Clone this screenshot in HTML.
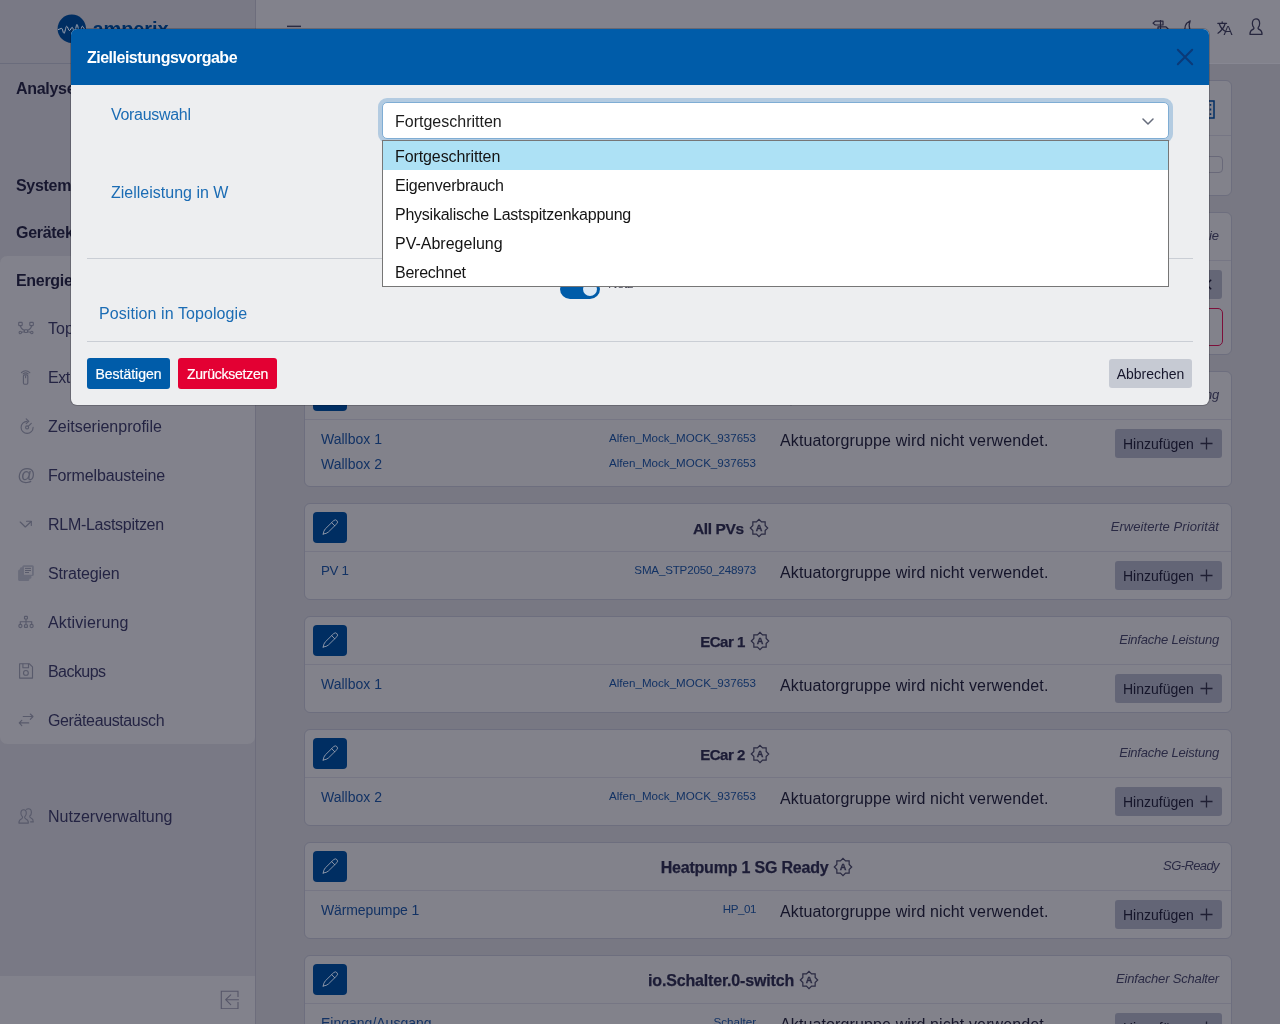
<!DOCTYPE html>
<html lang="de">
<head>
<meta charset="utf-8">
<title>amperix – Zielleistungsvorgabe</title>
<style>
*{box-sizing:border-box;margin:0;padding:0}
html,body{width:1280px;height:1024px;overflow:hidden}
body{position:relative;background:#787883;font-family:"Liberation Sans",sans-serif;font-size:16px;color:#1e1e3a}
.abs{position:absolute}
/* ---------- sidebar ---------- */
#side{position:absolute;left:0;top:0;width:256px;height:1024px;background:#797985;border-right:1px solid #6d6d7c}
#side .hd{position:absolute;left:0;top:0;width:255px;height:64px;border-bottom:1px solid #6a6c7c}
#side .grp{position:absolute;margin-top:1px;letter-spacing:-.3px;left:16px;font-weight:bold;font-size:16px;color:#17172f;white-space:nowrap;line-height:20px}
#side .open{position:absolute;left:0;top:256px;width:255px;height:488px;background:#82828c;border-radius:7px}
#side .it{position:absolute;margin-top:1px;left:48px;font-size:16px;color:#242443;white-space:nowrap;line-height:20px}
#side .ic{position:absolute;left:17px;width:18px;height:18px;color:#585a6b}
.gear{vertical-align:-4px;margin-left:5px;color:#2a2a42}
#side .ft{position:absolute;left:0;top:976px;width:255px;height:48px;background:#82828c}
/* ---------- top bar ---------- */
#top{position:absolute;left:256px;top:0;width:1024px;height:64px;background:#82828c;border-bottom:1px solid #878792}
/* ---------- cards ---------- */
.card{position:absolute;left:304px;width:928px;background:#82828b;border:1px solid #6d6e7e;border-radius:6px}
.card .hr{position:absolute;left:0;right:0;height:1px;background:#767684}
.card .hdr{position:absolute;left:0;top:0;right:0;height:47px;display:flex;justify-content:space-between;align-items:center;padding:0 12px 0 8px}
.card .edit{position:relative;flex:none;width:34px;height:31px;background:#002e62;border-radius:4px}
.card .ttl{font-weight:bold;font-size:16px;line-height:20px;color:#1c1c36;white-space:nowrap;letter-spacing:-0.4px;position:relative;top:1px;left:2px;-webkit-text-stroke:.25px #1c1c36}
.card .typ{font-style:italic;font-size:13px;line-height:18px;color:#2a2a44;white-space:nowrap;position:relative;top:-1px}
.card .nm{position:absolute;left:16px;font-size:14px;line-height:18px;color:#123264;white-space:nowrap}
.card .dv{position:absolute;right:475px;margin-top:1px;font-size:11.6px;line-height:16px;color:#123264;white-space:nowrap}
.card .msg{position:absolute;left:475px;margin-top:1px;letter-spacing:.12px;font-size:16px;line-height:20px;color:#15152a;white-space:nowrap}
.card .add{position:absolute;right:9px;margin-top:1px;width:107px;height:29px;background:#636576;border-radius:3px;font-size:14px;line-height:31px;color:#15152a;padding-left:8px;white-space:nowrap}
/* ---------- modal ---------- */
#modal{position:absolute;left:71px;top:29px;width:1138px;height:376px;background:#edeef0;border-radius:6px;overflow:hidden;box-shadow:0 0 0 1px rgba(0,0,10,.2)}
#modal .mh{position:absolute;left:0;top:0;width:100%;height:56px;background:#005ca9}
#modal .mh .t{position:absolute;left:16px;top:19px;letter-spacing:-0.5px;font-weight:bold;font-size:16px;line-height:20px;color:#fff;white-space:nowrap}
#modal .lbl{position:absolute;margin-top:1px;font-size:16px;line-height:20px;color:#1b6cb4;white-space:nowrap}
#modal .hr{position:absolute;left:16px;width:1106px;height:1px;background:#caced5}
.btn{position:absolute;height:31px;border-radius:3px;font-size:14px;line-height:33px;-webkit-text-stroke:.2px;text-align:center;white-space:nowrap;color:#fff}
#sel{position:absolute;left:311px;top:73px;width:787px;height:37px;background:#fff;border:1px solid #7fadd4;border-radius:5px;box-shadow:0 0 0 4px #b3cbe1}
#sel .v{position:absolute;left:12px;top:9px;font-size:16px;line-height:20px;color:#1c1c1c;white-space:nowrap}
#dd{position:absolute;left:311px;top:111px;width:787px;height:147px;background:#fff;border:1px solid #767676}
#dd div{height:29px;line-height:31px;letter-spacing:-.1px;padding-left:12px;font-size:16px;color:#141414;white-space:nowrap}
#dd div.on{background:#ade1f5}
</style>
</head>
<body>


<!-- ================= SIDEBAR ================= -->
<div id="side">
  <div class="hd">
    <svg class="abs" style="left:57px;top:14px" width="30" height="30" viewBox="0 0 30 30"><circle cx="14.800" cy="14.800" r="14.200" fill="#002e62"/><path d="M1 15.600C2.500 15.600 3.500 14.300 4.600 14.300S6 19.400 7 19.400S8.600 12.250 9.700 12.250S11.400 16.600 12.400 16.600S14.200 13.300 15.200 13.300S16.600 18.500 17.600 18.500S19 10.400 20 10.400S21.600 19 22.600 19S24.300 12.250 25.300 12.250S26.500 15.500 28.500 15.500" fill="none" stroke="#a0a5b2" stroke-width="1"/></svg>
    <div class="abs" style="left:92.500px;top:17px;font-size:20px;line-height:24px;font-weight:bold;color:#002e62;letter-spacing:-0.1px">amperix</div>
  </div>
  <div class="grp" style="top:78px">Analyse</div>
  <div class="grp" style="top:175px">Systemeinstellungen</div>
  <div class="grp" style="top:222px">Gerätekonfiguration</div>
  <div class="open"></div>
  <div class="grp" style="top:270px">Energiemanagement</div>

  <div class="it" style="top:318px">Topologie</div>
  <div class="it" style="top:367px;letter-spacing:-.5px">Ext. Sollwerte</div>
  <div class="it" style="top:416px">Zeitserienprofile</div>
  <div class="it" style="top:465px;letter-spacing:-0.15px">Formelbausteine</div>
  <div class="it" style="top:514px;letter-spacing:-0.28px">RLM-Lastspitzen</div>
  <div class="it" style="top:563px;letter-spacing:-0.14px">Strategien</div>
  <div class="it" style="top:612px;letter-spacing:0.12px">Aktivierung</div>
  <div class="it" style="top:661px;letter-spacing:-0.55px">Backups</div>
  <div class="it" style="top:710px;letter-spacing:-0.38px">Geräteaustausch</div>
  <div class="it" style="top:806px">Nutzerverwaltung</div>
  <svg class="ic" style="top:319px" viewBox="0 0 18 18"><g fill="none" stroke="currentColor" stroke-width="1.100"><rect x="1.700" y="3.400" width="3.500" height="3.200" rx=".6"/><rect x="12.800" y="3.400" width="3.500" height="3.200" rx=".6"/><rect x="7.500" y="10.700" width="3" height="2.800" rx=".6"/><circle cx="3.300" cy="13.500" r="1.200"/><circle cx="14.800" cy="13.500" r="1.200"/><path d="M3.400 6.600C3.600 9 5.500 10.500 7.500 11.400M14.600 6.600C14.400 9 12.500 10.500 10.500 11.400M4.500 13.300L7.500 12.700M13.600 13.300L10.500 12.700"/></g></svg>
  <svg class="ic" style="top:368px" viewBox="0 0 18 18"><g fill="none" stroke="currentColor" stroke-width="1.100" stroke-linecap="round"><rect x="6.400" y="6.900" width="4.400" height="9.400" rx="1.200"/><path d="M4.400 4.700Q8.600 .9 12.800 4.700M6.100 5.900Q8.600 3.800 11.100 5.900M8.600 8v1.800"/></g></svg>
  <svg class="ic" style="top:417px" viewBox="0 0 18 18"><g fill="none" stroke="currentColor" stroke-width="1.100" stroke-linecap="round" stroke-linejoin="round"><path d="M16.100 10.400A6 6 0 1 1 10.100 4.400"/><path d="M9.200 1.900L11.800 4.300L9.200 6.600"/><circle cx="10.100" cy="10.400" r="1.500"/><path d="M11.200 9.300L14.300 6.400"/></g></svg>
  <svg class="ic" style="top:466px" viewBox="0 0 18 18"><text x="9.300" y="15" text-anchor="middle" font-family="Liberation Sans, sans-serif" font-size="18" fill="currentColor">@</text></svg>
  <svg class="ic" style="top:515px" viewBox="0 0 18 18"><g fill="none" stroke="currentColor" stroke-width="1.100" stroke-linecap="round" stroke-linejoin="round"><path d="M3.200 7L8.300 12L14.200 6.500"/><path d="M9.500 6.300H14.300V10.400"/></g></svg>
  <svg class="ic" style="top:564px" viewBox="0 0 18 18"><g fill="#6a6c7b"><rect x="1.100" y="5.400" width="11.200" height="11.500" rx="1.500"/><rect x="2.900" y="3.200" width="11.500" height="11.500" rx="1.500"/><rect x="5.300" y="1.200" width="11.500" height="10.800" rx="1.500"/></g><rect x="7" y="2.900" width="8" height="7.900" fill="#82828c"/><path d="M8 4.400h6M8 6.500h6M8 8.500h4" stroke="#595b6c" stroke-width="1" fill="none"/></svg>
  <svg class="ic" style="top:613px" viewBox="0 0 18 18"><g fill="none" stroke="currentColor" stroke-width="1.100"><rect x="7.500" y="3.400" width="2.900" height="2.600" rx=".5"/><rect x="7.500" y="11.700" width="2.900" height="2.700" rx=".5"/><circle cx="3.400" cy="13" r="1.600"/><circle cx="14.600" cy="13" r="1.600"/><path d="M9 6V11.700M3.300 11.400V8.800H14.700V11.400"/></g></svg>
  <svg class="ic" style="top:662px" viewBox="0 0 18 18"><g fill="none" stroke="currentColor" stroke-width="1.100" stroke-linejoin="round"><path d="M2.600 1.800H12.400L15.500 4.900V16.100H2.600Z"/><path d="M5.900 1.800V5.800H11.500V1.800"/><circle cx="8.900" cy="10.900" r="2.400"/></g></svg>
  <svg class="ic" style="top:711px" viewBox="0 0 18 18"><g fill="none" stroke="currentColor" stroke-width="1.100" stroke-linecap="round" stroke-linejoin="round"><path d="M6.200 5.500H15.900M13.300 3L16 5.500L13.300 8.300"/><path d="M11.700 11.900H2.300M4.800 9.300L2.200 11.900L4.800 14.600"/></g></svg>
  <svg class="ic" style="top:807px" viewBox="0 0 18 18"><g fill="none" stroke="currentColor" stroke-width="1.100" stroke-linejoin="round"><path d="M9.200 2.600C9.800 2 10.600 1.700 11.400 1.700C13.200 1.700 14.400 3.300 14.400 5.400C14.400 7 13.700 8.300 12.800 9C12.400 9.900 12.700 10.500 14 11.100C15.700 11.800 16.300 12.600 16.300 14.900H13.200"/><path d="M1.900 16.100C1.900 13.300 2.600 12.600 4.300 11.900C5.600 11.300 5.900 10.700 5.500 9.800C4.600 9 3.900 7.700 3.900 6.200C3.900 4.200 5 2.700 6.600 2.700C8.200 2.700 9.300 4.200 9.300 6.200C9.300 7.700 8.600 9 7.700 9.800C7.300 10.700 7.600 11.300 8.900 11.900C10.600 12.600 11.400 13.300 11.400 16.100Z"/></g></svg>
  <div class="ft"><svg class="abs" style="left:219.500px;top:13.500px;color:#565668" width="19" height="19" viewBox="0 0 19 19" fill="none" stroke="currentColor" stroke-width="1.100"><path d="M18 7V1.300H1.300V18.700H18V12"/><path d="M18.500 9.700H6M10.700 4.800L5.700 9.700L10.700 14.600" stroke-linecap="round" stroke-linejoin="round"/></svg></div>
</div>

<!-- ================= TOP BAR ================= -->
<div id="top">
  <div class="abs" style="left:31px;top:25px;width:14px;height:1px;background:#60606f"></div>
  <div class="abs" style="left:31px;top:26px;width:14px;height:1px;background:#2a2a40"></div>
  <div class="abs" style="left:31px;top:27px;width:14px;height:1px;background:#797985"></div>
  <div class="abs" style="left:31px;top:31px;width:14px;height:2px;background:#2a2a40"></div>
  <div class="abs" style="left:31px;top:36px;width:14px;height:2px;background:#2a2a40"></div>
  <svg class="abs" style="left:896px;top:19px;color:#26263e" width="17" height="18" viewBox="0 0 17 18" fill="none" stroke="currentColor" stroke-width="1.200" stroke-linejoin="round"><path d="M8.500 1V17.500"/><path d="M3.200 2.200H11V6H3.200L1 4.100Z"/><path d="M6 7.800H13.800L16 9.700L13.800 11.600H6Z"/></svg>
  <svg class="abs" style="left:926px;top:19px;color:#26263e" width="14" height="18" viewBox="0 0 14 18" fill="none" stroke="currentColor" stroke-width="1.200" stroke-linejoin="round"><path d="M8.200 1.800C3.500 4 1.200 9 4 14c2 3 6 3.500 9 1.500C8.500 14.500 5.500 8 8.200 1.800Z"/></svg>
  <svg class="abs" style="left:960.700px;top:20.600px;color:#26263e" width="16" height="15" viewBox="0 0 17 16" fill="none" stroke="currentColor" stroke-width="1.300" stroke-linecap="round" stroke-linejoin="round"><path d="M.8 2.500H10.200M5.500 .8V2.500M2.300 2.700C3.500 6.500 6.500 10 9.500 11.500M8.700 2.700C7.500 7 4.500 10.500 1 13"/><text x="11.700" y="15.400" text-anchor="middle" font-family="Liberation Sans, sans-serif" font-size="14.500" fill="currentColor" stroke="none">A</text></svg>
  <svg class="abs" style="left:992.900px;top:18.200px;color:#26263e" width="14" height="17.300" viewBox="0 0 15 18" preserveAspectRatio="none" fill="none" stroke="currentColor" stroke-width="1.350" stroke-linejoin="round"><path d="M1 17c0-3.200.5-4 2.700-4.900c1.500-.6 1.900-1.300 1.400-2.300C4.200 9 3.600 7.500 3.600 5.800C3.600 3 5.100 1 7.500 1s3.900 2 3.900 4.800c0 1.700-.6 3.200-1.500 4c-.5 1-.1 1.700 1.400 2.300C13.500 13 14 13.800 14 17Z"/></svg>
</div>

<!-- ================= CARDS ================= -->
<div id="cards">
<div class="card" style="top:80px;height:116px">
  <div class="hr" style="top:54px"></div>
  <div class="abs" style="left:16px;top:17px;font-weight:bold;font-size:18px;line-height:22px;color:#1e1e38;white-space:nowrap">Energiemanager</div>
  <svg class="abs" style="left:891px;top:19px;color:#002e64" width="19" height="19" viewBox="0 0 19 19" fill="none" stroke="currentColor" stroke-width="1.500"><rect x="1" y="1" width="17" height="17"/><path d="M14.500 4v1.800M14.500 8.600v1.800M14.500 13.200v1.800M4 5h7M4 9.500h7M4 14h7"/></svg>
  <div class="abs" style="left:16px;top:74px;font-size:16px;line-height:20px;color:#1b1b2c;white-space:nowrap">Inaktive Aktuatorgruppen anzeigen</div>
  <div class="abs" style="left:885px;top:75px;width:33px;height:17px;border:1px solid #696979;border-radius:4px"></div>
</div>
<div class="card" style="top:212px;height:143px">
  <div class="hr" style="top:47px"></div>
  <div class="typ" style="position:absolute;right:12px;top:14px">Eigene Strategie</div>
  <div class="abs" style="left:810px;top:57px;width:107px;height:29px;background:#646676;border-radius:3px;font-size:14px;line-height:29px;color:#15152a;padding-left:8px;white-space:nowrap">Entfernen<svg class="abs" style="left:86px;top:9px;color:#15152a" width="11" height="11" viewBox="0 0 11 11" fill="none" stroke="currentColor" stroke-width="1.400"><path d="M.8 .8l9.400 9.400M10.200 .8L.8 10.200"/></svg></div>
  <div class="abs" style="left:475px;top:95px;width:443px;height:38px;border:1px solid #7d0f3a;border-radius:5px;font-size:14px;line-height:36px;color:#7d0f3a;padding-left:12px;white-space:nowrap">Strategie deaktiviert</div>
</div>
<div class="card" style="top:371px;height:116px">
  <div class="hdr">
  <div class="edit"><svg class="abs" style="left:8px;top:6px;color:#959dad" width="18" height="18" viewBox="0 0 18 18"><g fill="none" stroke="currentColor" stroke-width=".9" stroke-linejoin="round" stroke-linecap="round"><path d="M2.200 16Q2.600 12.600 4.260 10.930L12.810 2.530A2.200 2.200 0 0 1 15.890 5.670L7.340 14.070Q5.600 15.700 2.200 16Z"/><path d="M10.660 4.630L13.740 7.770"/></g></svg></div>
  <div class="ttl">Alle Wallboxen<svg class="gear" width="20" height="20" viewBox="0 0 20 20"><g fill="none" stroke="currentColor" stroke-width="1.200" stroke-linejoin="miter"><path d="M10 1.300L12.550 3.850L16.150 3.850L16.150 7.450L18.700 10L16.150 12.550L16.150 16.150L12.550 16.150L10 18.700L7.450 16.150L3.850 16.150L3.850 12.550L1.300 10L3.850 7.450L3.850 3.850L7.450 3.850Z"/><text x="10" y="13.300" text-anchor="middle" font-family="Liberation Sans, sans-serif" font-weight="bold" font-size="9.200" fill="currentColor" stroke="currentColor" stroke-width=".3" style="letter-spacing:0">A</text></g></svg></div>
  <div class="typ" style="letter-spacing:-0.21px">Einfache Leistung</div>
  </div>
  <div class="hr" style="top:47px"></div>
  <div class="nm" style="top:58px">Wallbox 1</div><div class="dv" style="top:57px">Alfen_Mock_MOCK_937653</div>
  <div class="nm" style="top:83px">Wallbox 2</div><div class="dv" style="top:82px">Alfen_Mock_MOCK_937653</div>
  <div class="msg" style="top:58px">Aktuatorgruppe wird nicht verwendet.</div>
  <div class="add" style="top:56px">Hinzufügen<svg class="abs" style="right:9px;top:8px;color:#1f1f33" width="13" height="13" viewBox="0 0 13 13"><path d="M6.500 .5v12M.5 6.500h12" stroke="currentColor" stroke-width="1.300" fill="none"/></svg></div>
</div>
<div class="card" style="top:503px;height:97px">
  <div class="hdr">
  <div class="edit"><svg class="abs" style="left:8px;top:6px;color:#959dad" width="18" height="18" viewBox="0 0 18 18"><g fill="none" stroke="currentColor" stroke-width=".9" stroke-linejoin="round" stroke-linecap="round"><path d="M2.200 16Q2.600 12.600 4.260 10.930L12.810 2.530A2.200 2.200 0 0 1 15.890 5.670L7.340 14.070Q5.600 15.700 2.200 16Z"/><path d="M10.660 4.630L13.740 7.770"/></g></svg></div>
  <div class="ttl" style="font-size:15.5px;letter-spacing:-.4px">All PVs<svg class="gear" width="20" height="20" viewBox="0 0 20 20"><g fill="none" stroke="currentColor" stroke-width="1.200" stroke-linejoin="miter"><path d="M10 1.300L12.550 3.850L16.150 3.850L16.150 7.450L18.700 10L16.150 12.550L16.150 16.150L12.550 16.150L10 18.700L7.450 16.150L3.850 16.150L3.850 12.550L1.300 10L3.850 7.450L3.850 3.850L7.450 3.850Z"/><text x="10" y="13.300" text-anchor="middle" font-family="Liberation Sans, sans-serif" font-weight="bold" font-size="9.200" fill="currentColor" stroke="currentColor" stroke-width=".3" style="letter-spacing:0">A</text></g></svg></div>
  <div class="typ" style="letter-spacing:0.07px">Erweiterte Priorität</div>
  </div>
  <div class="hr" style="top:47px"></div>
  <div class="nm" style="top:58px;font-size:13.300px;letter-spacing:-.35px">PV 1</div><div class="dv" style="top:57px;letter-spacing:-0.19px">SMA_STP2050_248973</div>
  <div class="msg" style="top:58px">Aktuatorgruppe wird nicht verwendet.</div>
  <div class="add" style="top:56px">Hinzufügen<svg class="abs" style="right:9px;top:8px;color:#1f1f33" width="13" height="13" viewBox="0 0 13 13"><path d="M6.500 .5v12M.5 6.500h12" stroke="currentColor" stroke-width="1.300" fill="none"/></svg></div>
</div>
<div class="card" style="top:616px;height:97px">
  <div class="hdr">
  <div class="edit"><svg class="abs" style="left:8px;top:6px;color:#959dad" width="18" height="18" viewBox="0 0 18 18"><g fill="none" stroke="currentColor" stroke-width=".9" stroke-linejoin="round" stroke-linecap="round"><path d="M2.200 16Q2.600 12.600 4.260 10.930L12.810 2.530A2.200 2.200 0 0 1 15.890 5.670L7.340 14.070Q5.600 15.700 2.200 16Z"/><path d="M10.660 4.630L13.740 7.770"/></g></svg></div>
  <div class="ttl" style="font-size:15px;letter-spacing:-.45px">ECar 1<svg class="gear" width="20" height="20" viewBox="0 0 20 20"><g fill="none" stroke="currentColor" stroke-width="1.200" stroke-linejoin="miter"><path d="M10 1.300L12.550 3.850L16.150 3.850L16.150 7.450L18.700 10L16.150 12.550L16.150 16.150L12.550 16.150L10 18.700L7.450 16.150L3.850 16.150L3.850 12.550L1.300 10L3.850 7.450L3.850 3.850L7.450 3.850Z"/><text x="10" y="13.300" text-anchor="middle" font-family="Liberation Sans, sans-serif" font-weight="bold" font-size="9.200" fill="currentColor" stroke="currentColor" stroke-width=".3" style="letter-spacing:0">A</text></g></svg></div>
  <div class="typ" style="letter-spacing:-0.21px">Einfache Leistung</div>
  </div>
  <div class="hr" style="top:47px"></div>
  <div class="nm" style="top:58px">Wallbox 1</div><div class="dv" style="top:57px">Alfen_Mock_MOCK_937653</div>
  <div class="msg" style="top:58px">Aktuatorgruppe wird nicht verwendet.</div>
  <div class="add" style="top:56px">Hinzufügen<svg class="abs" style="right:9px;top:8px;color:#1f1f33" width="13" height="13" viewBox="0 0 13 13"><path d="M6.500 .5v12M.5 6.500h12" stroke="currentColor" stroke-width="1.300" fill="none"/></svg></div>
</div>
<div class="card" style="top:729px;height:97px">
  <div class="hdr">
  <div class="edit"><svg class="abs" style="left:8px;top:6px;color:#959dad" width="18" height="18" viewBox="0 0 18 18"><g fill="none" stroke="currentColor" stroke-width=".9" stroke-linejoin="round" stroke-linecap="round"><path d="M2.200 16Q2.600 12.600 4.260 10.930L12.810 2.530A2.200 2.200 0 0 1 15.890 5.670L7.340 14.070Q5.600 15.700 2.200 16Z"/><path d="M10.660 4.630L13.740 7.770"/></g></svg></div>
  <div class="ttl" style="font-size:15px;letter-spacing:-.45px">ECar 2<svg class="gear" width="20" height="20" viewBox="0 0 20 20"><g fill="none" stroke="currentColor" stroke-width="1.200" stroke-linejoin="miter"><path d="M10 1.300L12.550 3.850L16.150 3.850L16.150 7.450L18.700 10L16.150 12.550L16.150 16.150L12.550 16.150L10 18.700L7.450 16.150L3.850 16.150L3.850 12.550L1.300 10L3.850 7.450L3.850 3.850L7.450 3.850Z"/><text x="10" y="13.300" text-anchor="middle" font-family="Liberation Sans, sans-serif" font-weight="bold" font-size="9.200" fill="currentColor" stroke="currentColor" stroke-width=".3" style="letter-spacing:0">A</text></g></svg></div>
  <div class="typ" style="letter-spacing:-0.21px">Einfache Leistung</div>
  </div>
  <div class="hr" style="top:47px"></div>
  <div class="nm" style="top:58px">Wallbox 2</div><div class="dv" style="top:57px">Alfen_Mock_MOCK_937653</div>
  <div class="msg" style="top:58px">Aktuatorgruppe wird nicht verwendet.</div>
  <div class="add" style="top:56px">Hinzufügen<svg class="abs" style="right:9px;top:8px;color:#1f1f33" width="13" height="13" viewBox="0 0 13 13"><path d="M6.500 .5v12M.5 6.500h12" stroke="currentColor" stroke-width="1.300" fill="none"/></svg></div>
</div>
<div class="card" style="top:842px;height:97px">
  <div class="hdr">
  <div class="edit"><svg class="abs" style="left:8px;top:6px;color:#959dad" width="18" height="18" viewBox="0 0 18 18"><g fill="none" stroke="currentColor" stroke-width=".9" stroke-linejoin="round" stroke-linecap="round"><path d="M2.200 16Q2.600 12.600 4.260 10.930L12.810 2.530A2.200 2.200 0 0 1 15.890 5.670L7.340 14.070Q5.600 15.700 2.200 16Z"/><path d="M10.660 4.630L13.740 7.770"/></g></svg></div>
  <div class="ttl" style="letter-spacing:-0.2px">Heatpump 1 SG Ready<svg class="gear" width="20" height="20" viewBox="0 0 20 20"><g fill="none" stroke="currentColor" stroke-width="1.200" stroke-linejoin="miter"><path d="M10 1.300L12.550 3.850L16.150 3.850L16.150 7.450L18.700 10L16.150 12.550L16.150 16.150L12.550 16.150L10 18.700L7.450 16.150L3.850 16.150L3.850 12.550L1.300 10L3.850 7.450L3.850 3.850L7.450 3.850Z"/><text x="10" y="13.300" text-anchor="middle" font-family="Liberation Sans, sans-serif" font-weight="bold" font-size="9.200" fill="currentColor" stroke="currentColor" stroke-width=".3" style="letter-spacing:0">A</text></g></svg></div>
  <div class="typ" style="letter-spacing:-0.6px">SG-Ready</div>
  </div>
  <div class="hr" style="top:47px"></div>
  <div class="nm" style="top:58px;letter-spacing:-0.12px">Wärmepumpe 1</div><div class="dv" style="top:57px;letter-spacing:-0.46px">HP_01</div>
  <div class="msg" style="top:58px">Aktuatorgruppe wird nicht verwendet.</div>
  <div class="add" style="top:56px">Hinzufügen<svg class="abs" style="right:9px;top:8px;color:#1f1f33" width="13" height="13" viewBox="0 0 13 13"><path d="M6.500 .5v12M.5 6.500h12" stroke="currentColor" stroke-width="1.300" fill="none"/></svg></div>
</div>
<div class="card" style="top:955px;height:97px">
  <div class="hdr">
  <div class="edit"><svg class="abs" style="left:8px;top:6px;color:#959dad" width="18" height="18" viewBox="0 0 18 18"><g fill="none" stroke="currentColor" stroke-width=".9" stroke-linejoin="round" stroke-linecap="round"><path d="M2.200 16Q2.600 12.600 4.260 10.930L12.810 2.530A2.200 2.200 0 0 1 15.890 5.670L7.340 14.070Q5.600 15.700 2.200 16Z"/><path d="M10.660 4.630L13.740 7.770"/></g></svg></div>
  <div class="ttl" style="letter-spacing:-0.17px">io.Schalter.0-switch<svg class="gear" width="20" height="20" viewBox="0 0 20 20"><g fill="none" stroke="currentColor" stroke-width="1.200" stroke-linejoin="miter"><path d="M10 1.300L12.550 3.850L16.150 3.850L16.150 7.450L18.700 10L16.150 12.550L16.150 16.150L12.550 16.150L10 18.700L7.450 16.150L3.850 16.150L3.850 12.550L1.300 10L3.850 7.450L3.850 3.850L7.450 3.850Z"/><text x="10" y="13.300" text-anchor="middle" font-family="Liberation Sans, sans-serif" font-weight="bold" font-size="9.200" fill="currentColor" stroke="currentColor" stroke-width=".3" style="letter-spacing:0">A</text></g></svg></div>
  <div class="typ" style="letter-spacing:-0.18px">Einfacher Schalter</div>
  </div>
  <div class="hr" style="top:47px"></div>
  <div class="nm" style="top:58px">Eingang/Ausgang</div><div class="dv" style="top:57px">Schalter</div>
  <div class="msg" style="top:58px">Aktuatorgruppe wird nicht verwendet.</div>
  <div class="add" style="top:56px">Hinzufügen<svg class="abs" style="right:9px;top:8px;color:#1f1f33" width="13" height="13" viewBox="0 0 13 13"><path d="M6.500 .5v12M.5 6.500h12" stroke="currentColor" stroke-width="1.300" fill="none"/></svg></div>
</div>
</div>

<!-- ================= MODAL ================= -->
<div id="modal">
  <div class="mh"><div class="t">Zielleistungsvorgabe</div><svg class="abs" style="left:1105px;top:19px;color:#0b3a78" width="18" height="18" viewBox="0 0 18 18" fill="none" stroke="currentColor" stroke-width="2" stroke-linecap="round"><path d="M1.800 1.800L16.200 16.200M16.200 1.800L1.800 16.200"/></svg></div>
  <div class="lbl" style="left:40px;top:75px;letter-spacing:-0.3px">Vorauswahl</div>
  <div class="lbl" style="left:40px;top:153px">Zielleistung in W</div>
  <div class="hr" style="top:229px"></div>
  <div class="lbl" style="left:28px;top:274px;letter-spacing:.08px">Position in Topologie</div>
  <div class="hr" style="top:312px"></div>
  <div class="btn" style="left:16px;top:329px;width:83px;background:#005ca9">Bestätigen</div>
  <div class="btn" style="left:107px;top:329px;width:99px;background:#e30033;letter-spacing:-.25px">Zurücksetzen</div>
  <div class="btn" style="left:1038px;top:330px;width:83px;height:29px;line-height:31px;-webkit-text-stroke:0;background:#c6cad3;color:#16162c">Abbrechen</div>
  <div class="abs" style="left:489px;top:250px;width:40px;height:20px;border-radius:10px;background:#005ca9"><div class="abs" style="left:23px;top:3px;width:14px;height:14px;border-radius:7px;background:#dce9f5"></div></div>
  <div class="abs" style="left:537px;top:247px;font-size:13px;line-height:16px;color:#4a4a58;letter-spacing:-.4px;white-space:nowrap">Netz</div>
  <div id="sel"><div class="v">Fortgeschritten</div><svg class="abs" style="left:759px;top:15px;color:#666c7c" width="12" height="7" viewBox="0 0 12 7" fill="none" stroke="currentColor" stroke-width="1.500" stroke-linecap="round" stroke-linejoin="round"><path d="M1 1L6 6L11 1"/></svg></div>
  <div id="dd">
    <div class="on">Fortgeschritten</div>
    <div style="letter-spacing:-.24px">Eigenverbrauch</div>
    <div style="letter-spacing:-.24px">Physikalische Lastspitzenkappung</div>
    <div style="letter-spacing:0">PV-Abregelung</div>
    <div style="letter-spacing:-.24px">Berechnet</div>
  </div>
</div>

</body>
</html>
